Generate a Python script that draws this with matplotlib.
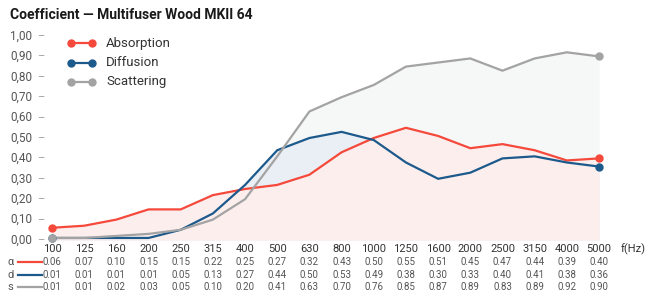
import numpy as np
import matplotlib.pyplot as plt

plt.rcParams['font.family'] = ['Roboto', 'DejaVu Sans']

# -------------------------
# DATA
# -------------------------
freqs = ["100", "125", "160", "200", "250", "315", "400", "500", "630", "800",
         "1000", "1250", "1600", "2000", "2500", "3150", "4000", "5000"]
absorption = [0.06, 0.07, 0.10, 0.15, 0.15, 0.22, 0.25, 0.27, 0.32, 0.43,
              0.50, 0.55, 0.51, 0.45, 0.47, 0.44, 0.39, 0.40]
diffusion = [0.01, 0.01, 0.01, 0.01, 0.05, 0.13, 0.27, 0.44, 0.50, 0.53,
             0.49, 0.38, 0.30, 0.33, 0.40, 0.41, 0.38, 0.36]
scattering = [0.01, 0.01, 0.02, 0.03, 0.05, 0.10, 0.20, 0.41, 0.63, 0.70,
              0.76, 0.85, 0.87, 0.89, 0.83, 0.89, 0.92, 0.90]
yticks = [0.0, 0.1, 0.2, 0.3, 0.4, 0.5, 0.6, 0.7, 0.8, 0.9, 1.0]

RED = "#f4493b"
BLUE = "#1d5a8c"
GREY = "#a3a3a3"
TXT = "#555555"

series = [
    ("Absorption", "\u03b1", absorption, RED, "#fdeeee"),
    ("Diffusion", "d", diffusion, BLUE, "#eaeff5"),
    ("Scattering", "s", scattering, GREY, "#f6f7f7"),
]
fill_z = {"Scattering": 1, "Diffusion": 2, "Absorption": 3}

W, H = 646, 294
fig = plt.figure(figsize=(W / 100, H / 100), dpi=100)

# plot area in pixels
x0, x1 = 52, 599
y_top, y_bot = 36, 240
ax = fig.add_axes([x0 / W, 1 - y_bot / H, (x1 - x0) / W, (y_bot - y_top) / H])
x = np.arange(len(freqs))
ax.set_xlim(0, len(freqs) - 1)
ax.set_ylim(0, 1)

# fills: scattering at back, absorption on top
for name, short, vals, col, fcol in series:
    ax.fill_between(x, 0, vals, color=fcol, lw=0, zorder=fill_z[name])
for name, short, vals, col, fcol in series:
    ax.plot(x, vals, color=col, lw=1.6, zorder=5)
    ax.plot([x[0], x[-1]], [vals[0], vals[-1]], "o", color=col, ms=5,
            zorder=6, clip_on=False)

for s in ax.spines.values():
    s.set_visible(False)
ax.set_xticks([])
ax.set_yticks([])

# y tick labels with short dashes
for v in yticks:
    yp = 1 - (y_bot - v * (y_bot - y_top)) / H
    fig.text(32 / W, yp, f"{v:.2f}".replace(".", ","), ha="right", va="center",
             fontsize=8.5, color=TXT)
    fig.text(37 / W, yp, "\u2013", ha="left", va="center", fontsize=8, color="#999999")

# title
fig.text(10 / W, 1 - 15 / H, "Coefficient \u2014 Multifuser Wood MKII 64",
         ha="left", va="center", fontsize=10, color="#1a1a1a", fontweight="semibold")

# legend
for i, (name, short, vals, col, fcol) in enumerate(series):
    yp = 1 - (43 + i * 19.5) / H
    fig.add_artist(plt.Line2D([71 / W, 92 / W], [yp, yp], color=col, lw=1.6,
                              marker="o", ms=5, markevery=[0, 1]))
    fig.text(106 / W, yp, name, ha="left", va="center", fontsize=9.5, color="#333333")


# -------------------------
# FREQUENCY LABELS + TABLE
# -------------------------
def xfig(i):
    return (x0 + i * (x1 - x0) / (len(freqs) - 1)) / W


for i, f in enumerate(freqs):
    fig.text(xfig(i), 1 - 249 / H, f, ha="center", va="center", fontsize=8, color="#333333")
fig.text(621 / W, 1 - 249 / H, "f(Hz)", ha="left", va="center", fontsize=8, color="#333333")

row_y = [262, 275, 287]
for (name, short, vals, col, fcol), ry in zip(series, row_y):
    yp = 1 - ry / H
    fig.text(7 / W, yp, short, ha="left", va="center", fontsize=8, color=TXT)
    fig.add_artist(plt.Line2D([18 / W, 42 / W], [yp, yp], color=col, lw=1.6))
    for i, v in enumerate(vals):
        fig.text(xfig(i), yp, f"{v:.2f}", ha="center", va="center", fontsize=7, color=TXT)

fig.savefig("out.png", dpi=100)
